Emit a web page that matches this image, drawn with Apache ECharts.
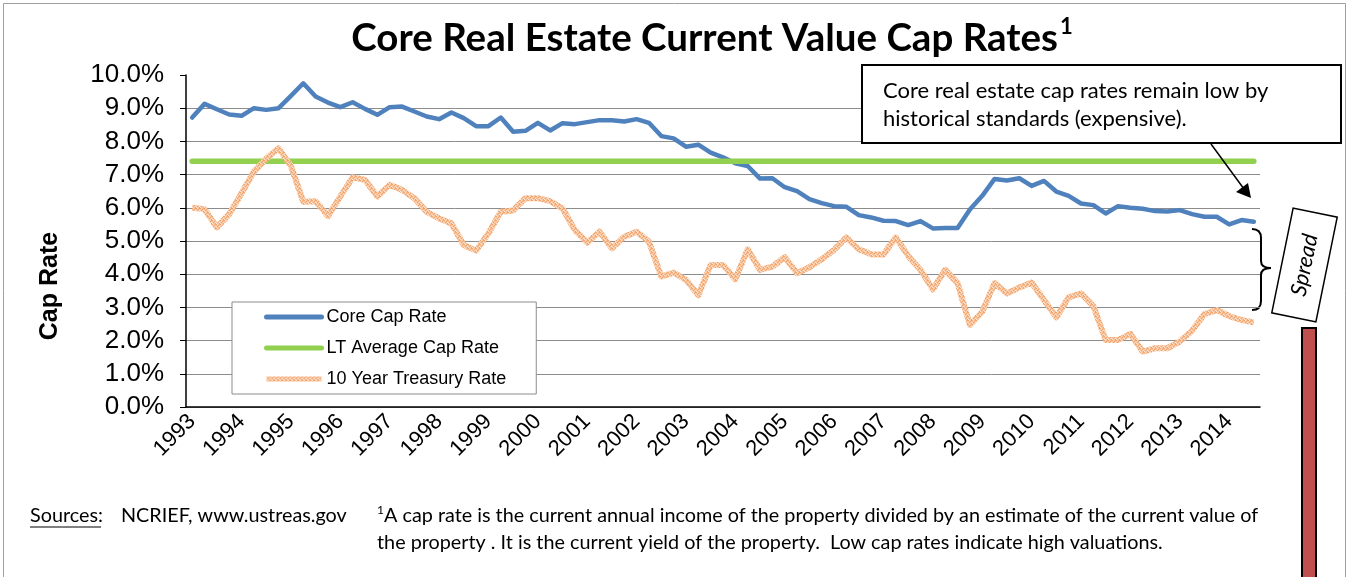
<!DOCTYPE html>
<html>
<head>
<meta charset="utf-8">
<script src="https://cdn.jsdelivr.net/npm/echarts@6/dist/echarts.min.js"></script>
<style>
  html, body { margin: 0; padding: 0; background: #fff; }
  #chart { width: 1348px; height: 577px; }
</style>
</head>
<body>
<div id="chart"></div>
<script>
'use strict';

// quarterly observations, 1993 Q1 .. 2014 Q3
var years = [1993, 1994, 1995, 1996, 1997, 1998, 1999, 2000, 2001, 2002, 2003,
             2004, 2005, 2006, 2007, 2008, 2009, 2010, 2011, 2012, 2013, 2014];
var lastQuarter = 3;

var coreCapRate = [
    8.72, 9.13, 8.97, 8.81, 8.77, 9.00, 8.95, 9.00, 9.37, 9.75,
    9.35, 9.17, 9.03, 9.18, 8.98, 8.80, 9.03, 9.05, 8.90, 8.75,
    8.67, 8.87, 8.70, 8.46, 8.46, 8.72, 8.29, 8.32, 8.56, 8.33,
    8.55, 8.52, 8.58, 8.64, 8.64, 8.60, 8.67, 8.56, 8.16, 8.09,
    7.84, 7.90, 7.66, 7.52, 7.34, 7.26, 6.88, 6.89, 6.62, 6.50,
    6.26, 6.14, 6.05, 6.03, 5.78, 5.71, 5.61, 5.60, 5.48, 5.60,
    5.38, 5.39, 5.39, 5.95, 6.36, 6.87, 6.82, 6.89, 6.66, 6.81,
    6.49, 6.36, 6.13, 6.08, 5.83, 6.05, 6.00, 5.97, 5.90, 5.89,
    5.93, 5.81, 5.73, 5.73, 5.50, 5.63, 5.58
];

var treasuryRate = [
    6.00, 5.96, 5.41, 5.81, 6.44, 7.09, 7.48, 7.79, 7.26, 6.18,
    6.20, 5.75, 6.34, 6.92, 6.84, 6.34, 6.69, 6.54, 6.29, 5.88,
    5.68, 5.53, 4.88, 4.71, 5.23, 5.88, 5.92, 6.29, 6.29, 6.20,
    5.98, 5.33, 4.95, 5.28, 4.78, 5.13, 5.28, 4.98, 3.93, 4.05,
    3.83, 3.37, 4.28, 4.28, 3.85, 4.75, 4.13, 4.23, 4.51, 4.03,
    4.21, 4.45, 4.73, 5.11, 4.75, 4.60, 4.59, 5.11, 4.55, 4.13,
    3.54, 4.13, 3.73, 2.47, 2.87, 3.73, 3.42, 3.60, 3.75, 3.22,
    2.70, 3.30, 3.42, 3.04, 2.02, 2.02, 2.20, 1.67, 1.77, 1.77,
    1.97, 2.30, 2.80, 2.92, 2.74, 2.62, 2.55
];

var ltAverageCapRate = 7.4;

var quarters = [];
for (var y = 0; y < years.length; y++) {
    var nq = (y === years.length - 1) ? lastQuarter : 4;
    for (var q = 1; q <= nq; q++) {
        quarters.push(years[y] + 'Q' + q);
    }
}
var ltAverage = quarters.map(function () { return ltAverageCapRate; });

// speckled orange stroke, like the excel texture fill
function makeTexture() {
    var c = document.createElement('canvas');
    c.width = 4;
    c.height = 4;
    var ctx = c.getContext('2d');
    ctx.fillStyle = '#f8c49c';
    ctx.fillRect(0, 0, 4, 4);
    ctx.fillStyle = '#f2a068';
    [[0, 0], [2, 1], [1, 2], [3, 3], [3, 0]].forEach(function (p) {
        ctx.fillRect(p[0], p[1], 1, 1);
    });
    ctx.fillStyle = '#fde2cc';
    [[1, 0], [3, 2], [0, 3]].forEach(function (p) {
        ctx.fillRect(p[0], p[1], 1, 1);
    });
    return c;
}

var font = 'Liberation Sans';
var noteFont = 'Lato';

var chart = echarts.init(document.getElementById('chart'));

function seg(x1, y1, x2, y2) {
    return { type: 'line', shape: { x1: x1, y1: y1, x2: x2, y2: y2 }, style: { stroke: '#000', lineWidth: 2 } };
}
function curve(x1, y1, cx, cy, x2, y2) {
    return {
        type: 'bezierCurve',
        shape: { x1: x1, y1: y1, cpx1: cx, cpy1: cy, x2: x2, y2: y2 },
        style: { fill: 'none', stroke: '#000', lineWidth: 2 }
    };
}
function note(x, y, text, size, z) {
    return {
        type: 'text',
        z: z || 1,
        x: x,
        y: y,
        style: { text: text, verticalAlign: 'middle', font: size + 'px Lato', fill: '#000' }
    };
}

var option = {
    animation: false,
    backgroundColor: '#fff',
    grid: {
        left: 186,
        right: 88,
        top: 75,
        bottom: 170
    },
    legend: {
        orient: 'vertical',
        left: 232,
        top: 302,
        itemWidth: 55,
        itemHeight: 14,
        itemGap: 13,
        padding: [6, 30, 6, 32],
        borderColor: '#8c8c8c',
        borderWidth: 1,
        backgroundColor: '#fff',
        itemStyle: { opacity: 0 },
        lineStyle: { width: 5 },
        textStyle: {
            fontFamily: font,
            fontSize: 18,
            color: '#000'
        },
        data: ['Core Cap Rate', 'LT Average Cap Rate', '10 Year Treasury Rate']
    },
    xAxis: {
        type: 'category',
        data: quarters,
        boundaryGap: true,
        axisLine: {
            lineStyle: { color: '#000', width: 1.5 }
        },
        axisTick: {
            interval: 3,
            length: 6,
            lineStyle: { color: '#808080' }
        },
        axisLabel: {
            interval: 3,
            rotate: 45,
            margin: 11,
            fontFamily: font,
            fontSize: 22,
            color: '#000',
            formatter: function (v) { return v.slice(0, 4); }
        },
        splitLine: { show: false }
    },
    yAxis: {
        type: 'value',
        min: 0,
        max: 10,
        interval: 1,
        axisLine: {
            show: true,
            lineStyle: { color: '#000', width: 1.5 }
        },
        axisTick: {
            show: true,
            length: 6,
            lineStyle: { color: '#000' }
        },
        axisLabel: {
            margin: 22,
            fontFamily: font,
            fontSize: 26,
            color: '#000',
            formatter: function (v) { return v.toFixed(1) + '%'; }
        },
        splitLine: {
            showMaxLine: false,
            lineStyle: { color: '#8c8c8c', width: 1 }
        }
    },
    series: [
        {
            name: 'Core Cap Rate',
            type: 'line',
            symbol: 'none',
            data: coreCapRate,
            lineStyle: { color: '#4f81bd', width: 4.5, cap: 'round', join: 'round' },
            itemStyle: { color: '#4f81bd' }
        },
        {
            name: 'LT Average Cap Rate',
            type: 'line',
            symbol: 'none',
            data: ltAverage,
            lineStyle: { color: '#92d050', width: 5.5, cap: 'round' },
            itemStyle: { color: '#92d050' }
        },
        {
            name: '10 Year Treasury Rate',
            type: 'line',
            symbol: 'none',
            data: treasuryRate,
            lineStyle: {
                color: { image: makeTexture(), repeat: 'repeat' },
                width: 6,
                opacity: 0.95,
                join: 'round'
            },
            itemStyle: { color: '#f6b283' }
        }
    ],
    graphic: [
        {
            type: 'rect',
            silent: true,
            shape: { x: 3.5, y: 3.5, width: 1342, height: 600 },
            style: { fill: 'none', stroke: '#a0a0a0', lineWidth: 1 }
        },
        {
            type: 'text',
            x: 712,
            y: 39,
            style: {
                text: '{t|Core Real Estate Current Value Cap Rates}{s|1}',
                align: 'center',
                verticalAlign: 'middle',
                rich: {
                    t: { fontFamily: noteFont, fontWeight: 'bold', fontSize: 38.5, lineHeight: 46, fill: '#000' },
                    s: { fontFamily: noteFont, fontWeight: 'bold', fontSize: 22, lineHeight: 46, verticalAlign: 'top', padding: [0, 0, 14, 2], fill: '#000' }
                }
            }
        },
        {
            type: 'text',
            x: 50,
            y: 286,
            rotation: Math.PI / 2,
            style: {
                text: 'Cap Rate',
                align: 'center',
                verticalAlign: 'middle',
                font: 'bold 25px "Liberation Sans"',
                fill: '#000'
            }
        },
        // callout box
        {
            type: 'rect',
            z: 10,
            shape: { x: 862, y: 65, width: 479, height: 78 },
            style: { fill: '#fff', stroke: '#000', lineWidth: 2 }
        },
        note(883, 91, 'Core real estate cap rates remain low by', 22, 11),
        note(883, 119, 'historical standards (expensive).', 22, 11),
        {
            type: 'line',
            z: 10,
            shape: { x1: 1211, y1: 144, x2: 1244, y2: 189 },
            style: { stroke: '#000', lineWidth: 1.5 }
        },
        {
            type: 'polygon',
            z: 10,
            shape: { points: [[1251, 198], [1236, 192], [1248, 183]] },
            style: { fill: '#000' }
        },
        // spread brace
        {
            type: 'group',
            children: [
                curve(1252, 229, 1261, 229, 1261, 238),
                seg(1261, 238, 1261, 261),
                curve(1261, 261, 1261, 268, 1271, 268),
                curve(1271, 268, 1261, 268, 1261, 275),
                seg(1261, 275, 1261, 301),
                curve(1261, 301, 1261, 310, 1252, 310)
            ]
        },
        {
            type: 'group',
            x: 1304.5,
            y: 265,
            rotation: 1.37,
            children: [
                {
                    type: 'rect',
                    z: 10,
                    shape: { x: -53.5, y: -22.5, width: 107, height: 45 },
                    style: { fill: '#fff', stroke: '#000', lineWidth: 1.5 }
                },
                {
                    type: 'text',
                    z: 11,
                    style: {
                        text: 'Spread',
                        x: 0,
                        y: 0,
                        align: 'center',
                        verticalAlign: 'middle',
                        font: 'italic 22px Lato',
                        fill: '#000'
                    }
                }
            ]
        },
        {
            type: 'rect',
            z: 10,
            shape: { x: 1302, y: 328, width: 14, height: 260 },
            style: { fill: '#c0504d', stroke: '#000', lineWidth: 2 }
        },
        // footer
        note(30, 516, 'Sources:', 19.8),
        {
            type: 'line',
            shape: { x1: 30, y1: 527, x2: 101, y2: 527 },
            style: { stroke: '#000', lineWidth: 1 }
        },
        note(121, 516, 'NCRIEF, www.ustreas.gov', 19.8),
        note(377, 510, '1', 12),
        note(384, 516, 'A cap rate is the current annual income of the property divided by an estimate of the current value of', 19.8),
        note(377, 543, 'the property . It is the current yield of the property.  Low cap rates indicate high valuations.', 19.8)
    ]
};

chart.setOption(option);
</script>
</body>
</html>
